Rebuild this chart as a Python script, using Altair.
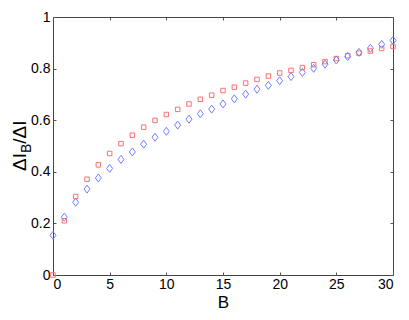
import altair as alt
import pandas as pd

# ---- data ----
B = list(range(31))
red_vals = [0.000, 0.210, 0.304, 0.371, 0.427, 0.471, 0.509, 0.542, 0.573, 0.599,
            0.622, 0.642, 0.663, 0.681, 0.697, 0.715, 0.728, 0.744, 0.758, 0.771,
            0.783, 0.793, 0.804, 0.815, 0.827, 0.839, 0.850, 0.860, 0.868, 0.878,
            0.886]
blue_vals = [0.154, 0.224, 0.282, 0.333, 0.376, 0.413, 0.448, 0.477, 0.507, 0.534,
             0.557, 0.581, 0.604, 0.625, 0.643, 0.663, 0.683, 0.701, 0.720, 0.735,
             0.753, 0.769, 0.785, 0.801, 0.817, 0.833, 0.847, 0.863, 0.879, 0.894,
             0.909]
x_ticks = [0, 5, 10, 15, 20, 25, 30]
y_ticks = [0, 0.2, 0.4, 0.6, 0.8, 1]
x_title = "B"
y_title_parts = ["ΔI", "B", "/ΔI"]

df = pd.DataFrame({"B": B, "red": red_vals, "blue": blue_vals})

FONT = "Liberation Sans"
W, H = 340, 258
RED = "#ff6f6f"
BLUE = "#6f7fff"
DIAMOND = "M0,-1L0.75,0L0,1L-0.75,0Z"

xs = alt.Scale(domain=[0, 30], nice=False, zero=False)
ys = alt.Scale(domain=[0, 1], nice=False, zero=False)

common = dict(domain=False, grid=False, tickColor="#555", tickSize=3, offset=-3,
              tickWidth=1)
lab = dict(labelFont=FONT, labelFontSize=14, labelColor="black")

red_layer = alt.Chart(df).mark_point(
    shape="square", size=20, filled=False, color=RED, strokeWidth=1, opacity=1
).encode(
    x=alt.X("B:Q", scale=xs,
            axis=alt.Axis(orient="bottom", values=x_ticks, title=x_title,
                          titleFont=FONT, titleFontSize=17, titleFontWeight="normal",
                          titleColor="black", titlePadding=3, labelPadding=2,
                          **common, **lab)),
    y=alt.Y("red:Q", scale=ys,
            axis=alt.Axis(orient="left", values=y_ticks, format="~g", title=None,
                          labelPadding=3, **common, **lab)),
)

blue_layer = alt.Chart(df).mark_point(
    shape=DIAMOND, size=64, filled=False, color=BLUE, strokeWidth=1, opacity=1
).encode(
    x=alt.X("B:Q", scale=xs,
            axis=alt.Axis(orient="top", values=x_ticks, labels=False, title=None, **common)),
    y=alt.Y("blue:Q", scale=ys,
            axis=alt.Axis(orient="right", values=y_ticks, labels=False, title=None, **common)),
)


def title_part(text, x, y, size):
    return alt.Chart(pd.DataFrame({"t": [text]})).mark_text(
        angle=270, align="left", baseline="alphabetic", font=FONT,
        fontSize=size, color="black"
    ).encode(text="t:N", x=alt.value(x), y=alt.value(y))


MAIN, SUB = 19, 14
y0 = 154
w1 = MAIN * (0.668 + 0.278)
w2 = SUB * 0.667
t1 = title_part(y_title_parts[0], -27, y0, MAIN)
t2 = title_part(y_title_parts[1], -22, y0 - w1, SUB)
t3 = title_part(y_title_parts[2], -27, y0 - w1 - w2, MAIN)

chart = alt.layer(red_layer, blue_layer, t1, t2, t3).properties(
    width=W, height=H,
    autosize=alt.AutoSizeParams(type="none"),
    padding={"left": 45, "top": 9, "right": 8, "bottom": 37},
    background="white",
).configure_view(stroke="#444", strokeWidth=1)

chart.save("out.html", embed_options={"renderer": "svg", "actions": False})
